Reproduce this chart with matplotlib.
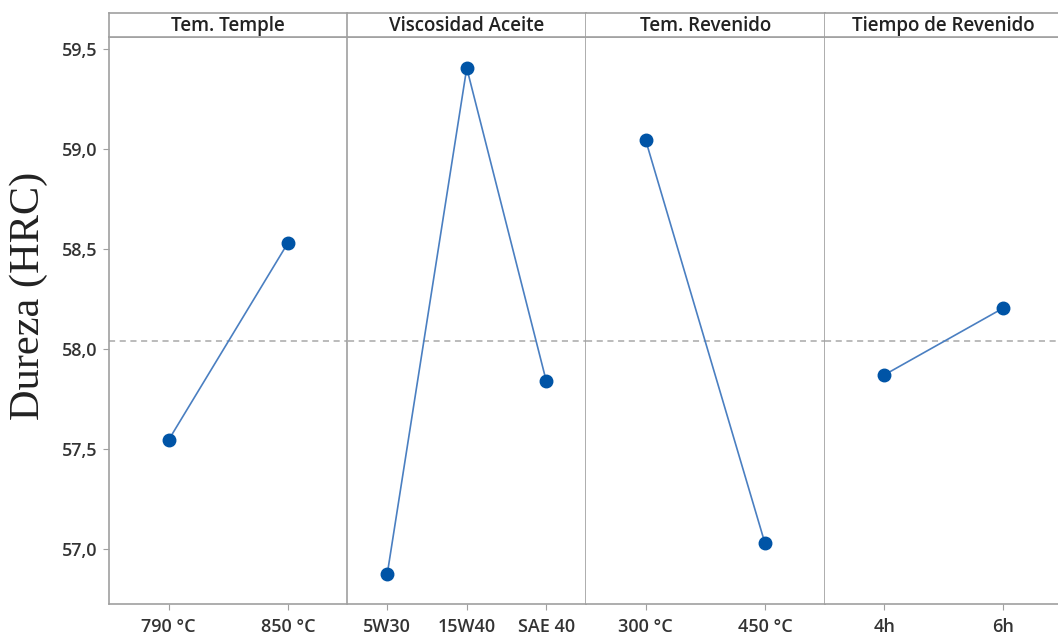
import matplotlib
matplotlib.use('Agg')
import matplotlib.pyplot as plt

# main effects of each factor on hardness (HRC)
factors = ['Tem. Temple', 'Viscosidad Aceite', 'Tem. Revenido', 'Tiempo de Revenido']
temple_levels = ['790 °C', '850 °C']
temple_means = [57.545, 58.53]
aceite_levels = ['5W30', '15W40', 'SAE 40']
aceite_means = [56.875, 59.405, 57.84]
revenido_levels = ['300 °C', '450 °C']
revenido_means = [59.045, 57.03]
tiempo_levels = ['4h', '6h']
tiempo_means = [57.87, 58.205]
grand_mean = 58.04
y_ticks = [57.0, 57.5, 58.0, 58.5, 59.0, 59.5]

panels = [
    (temple_levels, temple_means),
    (aceite_levels, aceite_means),
    (revenido_levels, revenido_means),
    (tiempo_levels, tiempo_means),
]

W, H = 1058, 637
fig = plt.figure(figsize=(W / 100, H / 100), dpi=100)

frame = '#a0a0a0'
txt = '#333333'
line_c = '#4a7fc1'
mark_c = '#0054a6'
font = 'Open Sans'

x0 = 109
pw = 238.5
plot_top = 37
plot_bot = 604
head_top = 13

for i, (name, (levels, means)) in enumerate(zip(factors, panels)):
    left = (x0 + i * pw) / W
    ax = fig.add_axes([left, 1 - plot_bot / H, pw / W, (plot_bot - plot_top) / H])
    xs = list(range(len(levels)))
    ax.axhline(grand_mean, color='#a8a8a8', linestyle=(0, (4, 3)), linewidth=1.1, zorder=1)
    ax.plot(xs, means, color=line_c, linewidth=1.2, zorder=2)
    ax.plot(xs, means, 'o', color=mark_c, markersize=9, zorder=3)
    ax.set_xlim(-0.5, len(levels) - 0.5)
    ax.set_ylim(56.725, 59.56)
    ax.set_xticks(xs)
    ax.set_xticklabels(levels, fontsize=13, color=txt, family=font, fontweight='semibold')
    ax.tick_params(axis='x', length=4, color=frame, pad=6)
    ax.set_yticks(y_ticks)
    if i == 0:
        ax.set_yticklabels([f'{v:.1f}'.replace('.', ',') for v in y_ticks],
                           fontsize=13, color=txt, family=font, fontweight='semibold')
        ax.tick_params(axis='y', length=4, color=frame, pad=4)
    else:
        ax.tick_params(axis='y', length=0, labelleft=False)
        ax.spines['left'].set_visible(False)
    for s in ax.spines.values():
        s.set_color(frame)
        s.set_linewidth(1.2)

    # factor name header box
    hx = fig.add_axes([left, 1 - plot_top / H, pw / W, (plot_top - head_top) / H])
    hx.set_xticks([])
    hx.set_yticks([])
    for s in hx.spines.values():
        s.set_color(frame)
        s.set_linewidth(1.2)
    if i > 0:
        hx.spines['left'].set_visible(False)
    hx.text(0.5, 0.45, name, ha='center', va='center', fontsize=13.5, color='#222222',
            family=font, fontweight='semibold', transform=hx.transAxes)

fig.text(29 / W, 1 - 296 / H, 'Dureza (HRC)', rotation=90, ha='center', va='center',
         fontsize=30.5, family='Liberation Serif', color='#222222')

plt.savefig('out.png', dpi=100)
